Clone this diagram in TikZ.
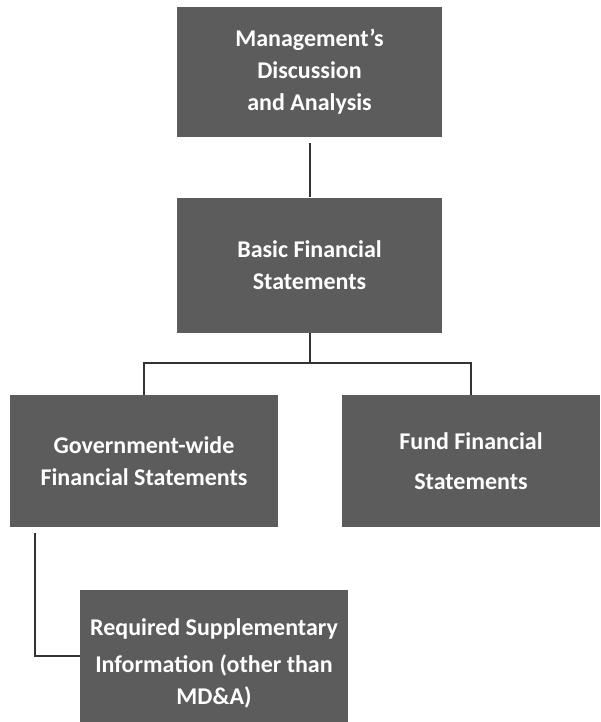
\documentclass[tikz,border=0pt]{standalone}
\usepackage{fontspec}
\setmainfont{Carlito}
\begin{document}
\begin{tikzpicture}[x=1pt,y=-1pt,
  boxshape/.style={draw=none, fill=black!64, rectangle, inner sep=0pt},
  boxtext/.style={text=white, align=center, inner sep=0pt,
    font=\bfseries\fontsize{24}{32}\selectfont},
  box/.style={boxshape, boxtext},
  conn/.style={draw=black!80, line width=2pt}]
\useasboundingbox[fill=white] (0,0) rectangle (600,722);
\node[box, minimum width=265, minimum height=130] (b1) at (309.5,72)
  {Management's\\Discussion\\and Analysis};
\node[box, minimum width=265, minimum height=135] (b2) at (309.5,265.5)
  {Basic Financial\\Statements};
\node[box, minimum width=268, minimum height=132] (b3) at (144,461)
  {Government-wide\\Financial Statements};
\node[box, minimum width=258, minimum height=132] (b4) at (471,461)
  {Fund Financial\\[8pt]Statements};
\node[boxshape, minimum width=268, minimum height=132] (b5) at (214,656) {};
\node[boxtext] (t5) at ([yshift=-7pt]b5.center)
  {Required Supplementary\\[5pt]Information (other than\\MD\&A)};
\coordinate (split) at (309.5,363);
\coordinate (gl) at (35,533);
\draw[conn] ([yshift=-6pt]b1.south) -- ([yshift=1pt]b2.north);
\draw[conn] (b2.south) -- (split);
\draw[conn] (b3.north) |- (split) -| (b4.north);
\draw[conn] (gl) |- (b5.west);
\end{tikzpicture}
\end{document}
